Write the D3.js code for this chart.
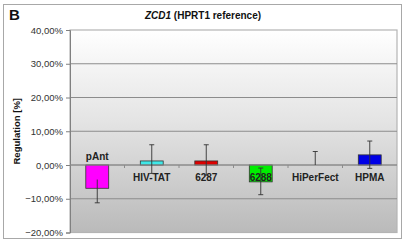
<!DOCTYPE html>
<html><head><meta charset="utf-8">
<script src="https://cdn.jsdelivr.net/npm/d3@7"></script>
<style>
html,body{margin:0;padding:0;background:#fff;}
svg{display:block;font-family:"Liberation Sans",Arial,sans-serif;}
</style></head>
<body><svg id="c" width="406" height="242"></svg>
<script>
const categories = ["pAnt","HIV-TAT","6287","6288","HiPerFect","HPMA"];
const values = [-6.9, 1.2, 1.2, -5.0, 0, 3.0];
const errUpper = [-4.3, 6.0, 6.0, -0.9, 4.0, 7.1];
const errLower = [-11.2, -2.5, -3.0, -8.8, 0, -1.0];
const colors = ["#ff00ff","#40e8e8","#dd0000","#00ee00","#888888","#0000e6"];
const yTicks = [-20,-10,0,10,20,30,40];

const svg = d3.select("#c");
const m = {l:70, r:397, t:30, b:232.5};

svg.append("rect").attr("x",3.5).attr("y",4.5).attr("width",398).attr("height",234)
  .attr("fill","#fff").attr("stroke","#a8a8a8").attr("stroke-width",1);

const defs = svg.append("defs");
const g = defs.append("linearGradient").attr("id","bg").attr("x1",0).attr("y1",0).attr("x2",0).attr("y2",1);
g.append("stop").attr("offset","0%").attr("stop-color","#ffffff");
g.append("stop").attr("offset","45%").attr("stop-color","#e4e4e4");
g.append("stop").attr("offset","100%").attr("stop-color","#bababa");

const x = d3.scaleBand().domain(categories).range([m.l, m.r]).padding(0);
const y = d3.scaleLinear().domain([-20,40]).range([m.b, m.t]);

svg.append("rect").attr("x",m.l).attr("y",m.t).attr("width",m.r-m.l).attr("height",m.b-m.t)
  .attr("fill","url(#bg)").attr("stroke","#b4b4b4").attr("stroke-width",1.2);

svg.append("g").selectAll("line").data(yTicks.filter(d=>d!==40 && d!==-20)).join("line")
  .attr("x1",m.l).attr("x2",m.r).attr("y1",d=>y(d)).attr("y2",d=>y(d))
  .attr("stroke","#8c8c8c").attr("stroke-width",1);

const yAxis = d3.axisLeft(y).tickValues(yTicks).tickSize(4).tickPadding(3)
  .tickFormat(d=>d3.format(".2f")(d).replace(".",",")+"%");
const ya = svg.append("g").attr("transform",`translate(${m.l},0)`).call(yAxis);
ya.select(".domain").attr("stroke","#808080");
ya.selectAll(".tick line").attr("stroke","#808080");
ya.selectAll("text").attr("font-size",9.5).attr("fill","#333");

const bw = x.bandwidth()*0.42;
svg.append("g").selectAll("rect").data(categories).join("rect")
  .attr("x",d=>x(d)+x.bandwidth()/2-bw/2)
  .attr("y",(d,i)=>y(Math.max(0,values[i])))
  .attr("width",bw)
  .attr("height",(d,i)=>Math.abs(y(values[i])-y(0)))
  .attr("fill",(d,i)=>colors[i])
  .attr("stroke","#333").attr("stroke-width",0.8)
  .attr("display",(d,i)=>values[i]===0?"none":null);

const xa = svg.append("g").attr("transform",`translate(0,${y(0)})`);
xa.append("line").attr("x1",m.l).attr("x2",m.r).attr("stroke","#8c8c8c");
xa.selectAll("line.t").data(categories.slice(1)).join("line").attr("class","t")
  .attr("x1",d=>x(d)).attr("x2",d=>x(d)).attr("y1",0).attr("y2",3).attr("stroke","#8c8c8c");

svg.append("g").selectAll("text").data(categories).join("text")
  .attr("x",d=>x(d)+x.bandwidth()/2)
  .attr("y",(d,i)=> i===0 ? y(0)-5 : y(0)+16)
  .attr("text-anchor","middle").attr("font-size",10).attr("font-weight","bold").attr("fill","#222")
  .text(d=>d);

const eb = svg.append("g").attr("stroke","#333").attr("stroke-width",0.9);
categories.forEach((c,i)=>{
  const cx = x(c)+x.bandwidth()/2;
  eb.append("line").attr("x1",cx).attr("x2",cx).attr("y1",y(errUpper[i])).attr("y2",y(errLower[i]));
  if(i!==0) eb.append("line").attr("x1",cx-2.5).attr("x2",cx+2.5).attr("y1",y(errUpper[i])).attr("y2",y(errUpper[i]));
  if(errLower[i]!==0) eb.append("line").attr("x1",cx-2.5).attr("x2",cx+2.5).attr("y1",y(errLower[i])).attr("y2",y(errLower[i]));
});

svg.append("text").attr("x",9).attr("y",20).attr("font-size",15).attr("font-weight","bold").attr("fill","#111").text("B");
const t = svg.append("text").attr("x",203).attr("y",19).attr("text-anchor","middle")
  .attr("font-size",10).attr("font-weight","bold").attr("fill","#111");
t.append("tspan").attr("font-style","italic").text("ZCD1");
t.append("tspan").text(" (HPRT1 reference)");

svg.append("text").attr("transform",`translate(20,${(y(20)+y(0))/2}) rotate(-90)`)
  .attr("text-anchor","middle").attr("font-size",9.5).attr("font-weight","bold").attr("fill","#111")
  .text("Regulation [%]");
</script></body></html>
